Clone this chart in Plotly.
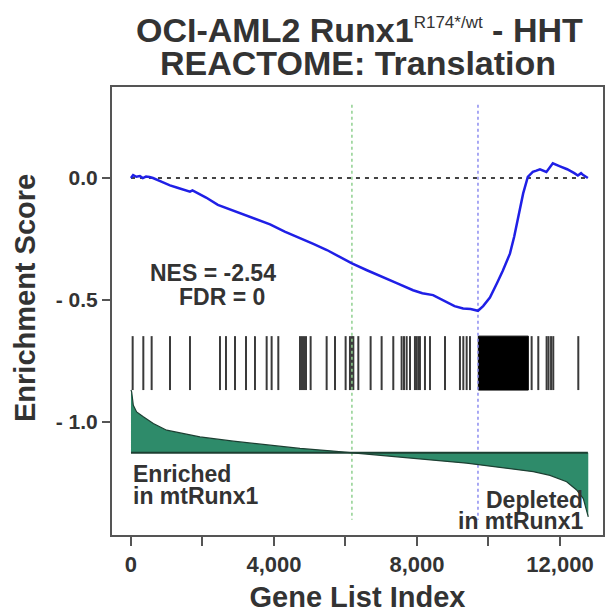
import plotly.graph_objects as go

# ---------------- data ----------------
es_index = [0, 60, 150, 250, 330, 420, 520, 615, 800, 1000, 1090, 1300, 1500, 1650, 1720, 1800,
            2100, 2430, 2700, 3130, 3500, 3890, 4300, 4730, 5100, 5480, 5800, 6180, 6600, 7050,
            7450, 7890, 8150, 8450, 8650, 8840, 9050, 9290, 9500, 9706, 9850, 10040, 10150, 10240,
            10400, 10600, 10720, 10830, 10900, 10970, 11100, 11240, 11340, 11440, 11620, 11800,
            12000, 12200, 12400, 12500, 12590, 12650, 12780]
es_score = [0.0, 0.012, 0.005, 0.008, 0.0, 0.006, 0.004, 0.0, -0.012, -0.025, -0.03, -0.04, -0.05,
            -0.056, -0.051, -0.057, -0.08, -0.11, -0.125, -0.15, -0.17, -0.19, -0.22, -0.246, -0.27,
            -0.295, -0.32, -0.35, -0.378, -0.405, -0.432, -0.46, -0.472, -0.48, -0.495, -0.51,
            -0.525, -0.535, -0.537, -0.544, -0.525, -0.49, -0.46, -0.43, -0.38, -0.31, -0.24, -0.16,
            -0.11, -0.063, 0.005, 0.025, 0.03, 0.036, 0.025, 0.06, 0.048, 0.036, 0.02, 0.01, 0.02,
            0.012, 0.0]

hit_index = [47, 345, 578, 1091, 1650, 2489, 2657, 2909, 3217, 3468, 3795, 3934, 4121, 4727, 4783,
             4839, 4895, 5025, 5473, 5706, 6004, 6125, 6180, 6219, 6359, 6703, 7011, 7337, 7570,
             7636, 7711, 7804, 7943, 7990, 8040, 8083, 8223, 8363, 8783, 9202, 9296, 9389, 9482,
             11207, 11393, 11626, 11680, 11750, 11812, 12512]
hit_blocks = [(9715, 11114)]  # dense run of hits

metric_index = [0, 19, 65, 158, 345, 625, 998, 1464, 1930, 2862, 3795, 4727, 5659, 6180, 7058,
                8457, 9389, 10321, 11253, 11719, 12186, 12465, 12652, 12791]
metric_value = [1.03, 1.0, 0.78, 0.67, 0.59, 0.48, 0.37, 0.31, 0.26, 0.19, 0.126, 0.072, 0.028, 0.0,
                -0.043, -0.12, -0.17, -0.24, -0.31, -0.37, -0.475, -0.61, -0.75, -1.05]

n_genes = 12780
leading_edge_green = 6180
leading_edge_blue = 9706

title_line1 = ("OCI-AML2 Runx1<sup><span style='font-size:17px;font-weight:normal'>"
               "R174*/wt</span></sup> - HHT")
title_line2 = "REACTOME: Translation"
y_title = "Enrichment Score"
x_title = "Gene List Index"
nes_text = "NES = -2.54"
fdr_text = "FDR = 0"

x_tickvals = [0, 2000, 4000, 6000, 8000, 10000, 12000]
x_ticktext = ["0", "", "4,000", "", "8,000", "", "12,000"]
y_tickvals = [0.0, -0.5, -1.0]
y_ticktext = ["0.0", "- 0.5", "- 1.0"]

# ---------------- style constants ----------------
FONT = "Liberation Sans, Arial, sans-serif"
TXT = "#333333"
HIT_TOP, HIT_BOT = -0.648, -0.869
VLINE_TOP, VLINE_BOT = 0.30, -1.40
Y1_RANGE = [-1.463, 0.373]
Y2_RANGE = [-1.348, 5.997]

fig = go.Figure()

# ranked metric (on secondary axis)
fig.add_trace(go.Scatter(x=metric_index, y=metric_value, mode="lines", fill="tozeroy",
                         fillcolor="#2e8b6a", line=dict(color="#1c3f32", width=1.2),
                         yaxis="y2", hoverinfo="skip", showlegend=False))
fig.add_trace(go.Scatter(x=[0, n_genes], y=[0, 0], mode="lines",
                         line=dict(color="#1c3f32", width=2), yaxis="y2",
                         hoverinfo="skip", showlegend=False))

# hit lines
hx, hy = [], []
for h in hit_index:
    hx += [h, h, None]
    hy += [HIT_TOP, HIT_BOT, None]
fig.add_trace(go.Scatter(x=hx, y=hy, mode="lines", line=dict(color="#3a3a3a", width=2),
                         hoverinfo="skip", showlegend=False))
for s, e in hit_blocks:
    fig.add_trace(go.Scatter(x=[s, e, e, s, s], y=[HIT_BOT, HIT_BOT, HIT_TOP, HIT_TOP, HIT_BOT],
                             mode="lines", fill="toself", fillcolor="#000000",
                             line=dict(color="#000000", width=1),
                             hoverinfo="skip", showlegend=False))

# zero dashed line
fig.add_trace(go.Scatter(x=[0, n_genes], y=[0, 0], mode="lines",
                         line=dict(color="#444444", width=2, dash="4px,5px"),
                         hoverinfo="skip", showlegend=False))

# vertical dotted lines
fig.add_trace(go.Scatter(x=[leading_edge_green, leading_edge_green], y=[VLINE_TOP, VLINE_BOT],
                         mode="lines", line=dict(color="#8fd08f", width=1.5, dash="dot"),
                         hoverinfo="skip", showlegend=False))
fig.add_trace(go.Scatter(x=[leading_edge_blue, leading_edge_blue], y=[VLINE_TOP, VLINE_BOT],
                         mode="lines", line=dict(color="#8c8cf0", width=1.5, dash="dot"),
                         hoverinfo="skip", showlegend=False))

# ES curve
fig.add_trace(go.Scatter(x=es_index, y=es_score, mode="lines",
                         line=dict(color="#1f1fe6", width=2.5),
                         hoverinfo="skip", showlegend=False))

def ann(text, x, y, xanchor="center", size=23):
    fig.add_annotation(text=text, x=x, y=y, xref="x", yref="y", xanchor=xanchor,
                       yanchor="middle", showarrow=False,
                       font=dict(family=FONT, size=size, color=TXT, weight="bold"))

ann(nes_text, 2307, -0.390)
ann(fdr_text, 2545, -0.486)
ann("Enriched", 0, -1.215, "left")
ann("in mtRunx1", 0, -1.302, "left")
ann("Depleted", 12700, -1.318, "right")
ann("in mtRunx1", 12700, -1.404, "right")

def pann(text, xp, yp, size, angle=0):
    fig.add_annotation(text=text, x=xp, y=yp, xref="paper", yref="paper", xanchor="center",
                       yanchor="middle", showarrow=False, textangle=angle,
                       font=dict(family=FONT, size=size, color=TXT, weight="bold"))

pann(title_line1, 0.505, 1.128, 34)
pann(title_line2, 0.500, 1.053, 34)
pann(y_title, -0.1772, 0.529, 29, angle=-90)

fig.update_layout(
    width=615, height=613,
    margin=dict(l=112, r=12, t=87, b=78, autoexpand=False),
    paper_bgcolor="white", plot_bgcolor="white",
    font=dict(family=FONT, color=TXT),
    xaxis=dict(range=[-531, 13203], tickvals=x_tickvals, ticktext=x_ticktext,
               automargin=False,
               showgrid=False, zeroline=False, showline=True, mirror=True,
               linecolor="#555555", linewidth=2, ticks="outside", ticklen=9,
               tickwidth=2, tickcolor="#555555",
               tickfont=dict(family=FONT, size=22, color=TXT, weight="bold"),
               title=dict(text=x_title, standoff=12,
                          font=dict(family=FONT, size=29, color=TXT, weight="bold"))),
    yaxis=dict(range=Y1_RANGE, tickvals=y_tickvals, ticktext=y_ticktext,
               automargin=False,
               showgrid=False, zeroline=False, showline=True, mirror=True,
               linecolor="#555555", linewidth=2, ticks="outside", ticklen=8,
               tickwidth=2, tickcolor="#555555",
               tickfont=dict(family=FONT, size=21, color=TXT, weight="bold")),
    yaxis2=dict(range=Y2_RANGE, overlaying="y", visible=False),
)

fig.write_html("out.html")
